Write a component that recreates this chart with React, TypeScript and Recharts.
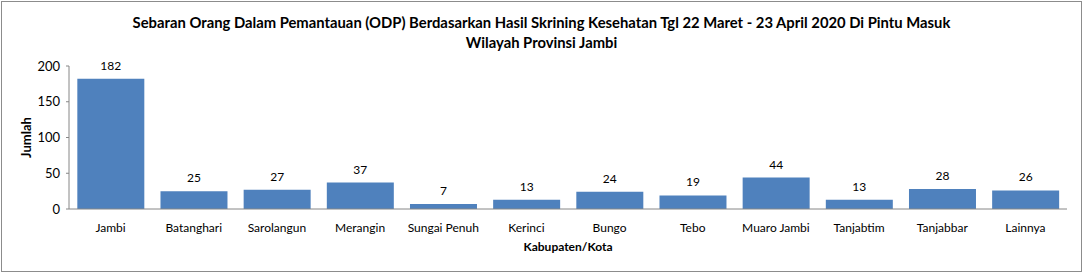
import { Bar, BarChart, LabelList, Label, XAxis, YAxis } from "recharts";

const kabupaten = [
	"Jambi",
	"Batanghari",
	"Sarolangun",
	"Merangin",
	"Sungai Penuh",
	"Kerinci",
	"Bungo",
	"Tebo",
	"Muaro Jambi",
	"Tanjabtim",
	"Tanjabbar",
	"Lainnya",
];
const jumlahODP = [182, 25, 27, 37, 7, 13, 24, 19, 44, 13, 28, 26];
const yTicks = [0, 50, 100, 150, 200];

const titleLines = [
	"Sebaran Orang Dalam Pemantauan (ODP) Berdasarkan Hasil Skrining Kesehatan Tgl 22 Maret - 23 April 2020 Di Pintu Masuk",
	"Wilayah Provinsi Jambi",
];

const data = kabupaten.map((name, i) => ({ name, jumlah: jumlahODP[i] }));

const FONT = "Lato, 'Noto Sans', sans-serif";
const BLUE = "#4f81bd";
const AXIS = "#868686";

export default function App() {
	return (
		<div
			style={{
				position: "absolute",
				left: 0,
				top: 0,
				width: 1083,
				height: 273,
				background: "#fff",
				fontFamily: FONT,
			}}
		>
			<div
				style={{
					position: "absolute",
					left: 1,
					top: 1,
					width: 1079,
					height: 269,
					border: "1px solid #8c8c8c",
				}}
			/>
			<div
				style={{
					position: "absolute",
					left: 0,
					top: 12,
					width: 1083,
					textAlign: "center",
					fontWeight: 700,
					fontSize: 14.8,
					lineHeight: "20px",
					color: "#000",
				}}
			>
				{titleLines.map((t) => (
					<div key={t}>{t}</div>
				))}
			</div>
			<BarChart
				width={1083}
				height={273}
				data={data}
				margin={{ top: 66, right: 16, left: 0, bottom: 0 }}
				barCategoryGap="10%"
			>
				<XAxis
					dataKey="name"
					tickLine={false}
					axisLine={{ stroke: AXIS }}
					height={64}
					tick={{ fill: "#000", fontSize: 12, fontFamily: FONT }}
					tickMargin={8}
					interval={0}
				>
					<Label
						value="Kabupaten/Kota"
						position="insideBottom"
						offset={22}
						style={{ fontWeight: 700, fontSize: 12, fill: "#000", fontFamily: FONT }}
					/>
				</XAxis>
				<YAxis
					domain={[0, 200]}
					ticks={yTicks}
					width={69}
					tickSize={3}
					tickLine={{ stroke: AXIS }}
					axisLine={{ stroke: AXIS }}
					tick={{ fill: "#000", fontSize: 13, fontFamily: FONT }}
					tickMargin={6}
				>
					<Label
						value="Jumlah"
						angle={-90}
						position="insideLeft"
						offset={26}
						style={{
							fontWeight: 700,
							fontSize: 13,
							fill: "#000",
							fontFamily: FONT,
							textAnchor: "middle",
						}}
					/>
				</YAxis>
				<Bar dataKey="jumlah" fill={BLUE} isAnimationActive={false}>
					<LabelList
						dataKey="jumlah"
						position="top"
						offset={9}
						style={{ fill: "#000", fontSize: 12, fontFamily: FONT }}
					/>
				</Bar>
			</BarChart>
		</div>
	);
}
